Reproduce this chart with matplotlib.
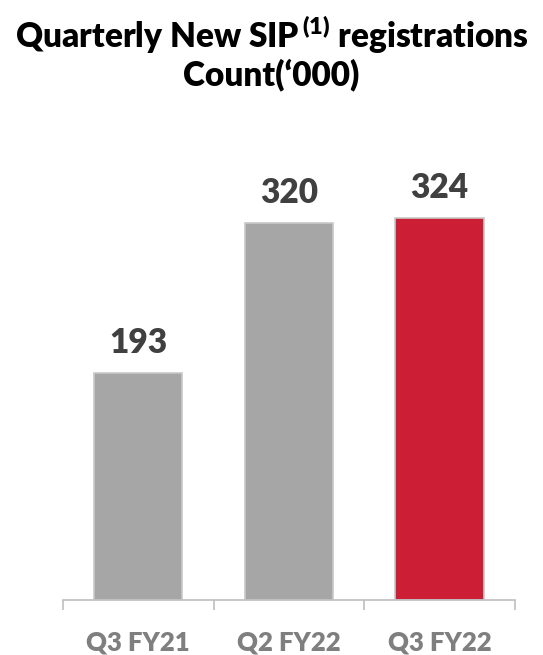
import matplotlib.pyplot as plt

plt.rcParams['font.family'] = ['Lato', 'DejaVu Sans']
plt.rcParams['mathtext.default'] = 'regular'

quarters = ['Q3 FY21', 'Q2 FY22', 'Q3 FY22']
registrations = [193, 320, 324]
bar_colors = ['#A6A6A6', '#A6A6A6', '#CC1F36']

fig = plt.figure(figsize=(5.43, 6.55), dpi=100)
ax = fig.add_axes([0.116, 0.084, 0.832, 0.687])

x = range(len(quarters))
bars = ax.bar(x, registrations, width=0.585, color=bar_colors,
              edgecolor='#C8C8C8', linewidth=1.2)

for xi, v in zip(x, registrations):
    ax.annotate(str(v), (xi, v), xytext=(0, 10), textcoords='offset points',
                ha='center', va='bottom', fontsize=24, fontweight='heavy',
                color='#404040')

ax.set_xlim(-0.5, 2.5)
ax.set_ylim(0, 382)
ax.set_yticks([])
for s in ['top', 'right', 'left']:
    ax.spines[s].set_visible(False)
ax.spines['bottom'].set_color('#BFBFBF')
ax.spines['bottom'].set_linewidth(1.2)

# tick marks sit between categories
ax.set_xticks([-0.5, 0.5, 1.5, 2.5])
ax.set_xticklabels([])
ax.tick_params(axis='x', length=7, width=1.2, color='#BFBFBF')
for xi, q in zip(x, quarters):
    ax.text(xi, -0.095, q, transform=ax.get_xaxis_transform(), ha='center',
            va='center', fontsize=18.5, fontweight='heavy', color='#7F7F7F')

fig.text(0.5, 0.947, 'Quarterly New SIP$^{\\,(1)}$ registrations', ha='center',
         va='center', fontsize=24, fontweight='heavy', color='black')
fig.text(0.5, 0.885, 'Count(\u2018000)', ha='center', va='center',
         fontsize=24, fontweight='heavy', color='black')

fig.savefig('out.png', dpi=100)
